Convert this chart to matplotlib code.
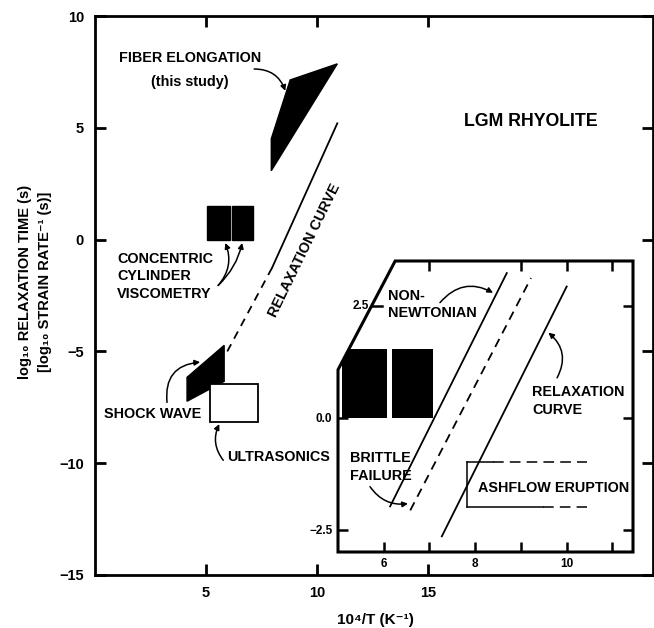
import matplotlib.pyplot as plt
from matplotlib.patches import Polygon, Rectangle

plt.rcParams['font.family'] = ['Liberation Sans', 'DejaVu Sans']
plt.rcParams['font.weight'] = 'bold'

# --- main panel: log10 relaxation time vs 10^4/T ---
X_LIM = (0, 25.1)
Y_LIM = (-15, 10)
X_TICKS = [5, 10, 15]
Y_TICKS = [-15, -10, -5, 0, 5, 10]

fiber_x = [7.93, 7.93, 8.78, 10.9]
fiber_y = [3.08, 4.51, 7.14, 7.86]

shock_x = [4.14, 5.81, 5.81, 4.14]
shock_y = [-6.16, -4.73, -6.34, -7.23]

ultrasonic_x = [5.18, 7.34]
ultrasonic_y = [-8.17, -6.47]

cylinder_x = [(5.04, 6.08), (6.17, 7.10)]
cylinder_y = [0.0, 1.5]

relax_solid_x = [7.97, 10.9]
relax_solid_y = [-1.25, 5.2]
relax_dash_x = [5.95, 7.97]
relax_dash_y = [-5.0, -1.25]

# --- inset: close-up of the 5-11.5 window ---
INSET_XLIM = (5.0, 11.45)
INSET_YLIM = (-3.0, 3.5)
INSET_XTICKS = [6, 7, 8, 9, 10, 11]
INSET_XLABELS = ['6', '', '8', '', '10', '']
INSET_YTICKS = [-2.5, 0.0, 2.5]
INSET_YLABELS = ['\u22122.5', '0.0', '2.5']
inset_cut = [(5.0, 1.07), (6.25, 3.5)]   # the clipped top-left corner

inset_cyl_x = [(5.09, 6.07), (6.18, 7.08)]
inset_cyl_y = [0.0, 1.54]

nonnewt_x = [6.14, 8.69]
nonnewt_y = [-1.98, 3.23]
brittle_x = [6.58, 9.22]
brittle_y = [-2.07, 3.12]
inset_relax_x = [7.27, 10.0]
inset_relax_y = [-2.65, 2.93]

ashflow_x = [7.82, 10.45]
ashflow_y = [-2.0, -1.0]
ashflow_top_solid = 8.39
ashflow_bottom_solid = 9.49

W, H = 654, 628
fig = plt.figure(figsize=(W / 100, H / 100), dpi=100)

ax = fig.add_axes([95 / W, 1 - 575 / H, 558 / W, 559 / H])
ax.set_xlim(*X_LIM)
ax.set_ylim(*Y_LIM)
ax.set_xticks(X_TICKS, [str(v) for v in X_TICKS])
ax.set_yticks(Y_TICKS, [str(v).replace('-', '\u2212') for v in Y_TICKS])
ax.tick_params(direction='in', length=8, width=2, top=True, right=True,
               labelsize=10.5, pad=8)
for s in ax.spines.values():
    s.set_linewidth(2)

ax.add_patch(Polygon(list(zip(fiber_x, fiber_y)), closed=True, fc='black', ec='black'))
ax.add_patch(Polygon(list(zip(shock_x, shock_y)), closed=True, fc='black', ec='black'))
ax.add_patch(Rectangle((ultrasonic_x[0], ultrasonic_y[0]),
                       ultrasonic_x[1] - ultrasonic_x[0], ultrasonic_y[1] - ultrasonic_y[0],
                       fc='white', ec='black', lw=1.3))
for xa, xb in cylinder_x:
    ax.add_patch(Rectangle((xa, cylinder_y[0]), xb - xa, cylinder_y[1] - cylinder_y[0],
                           fc='black', ec='black'))

ax.plot(relax_solid_x, relax_solid_y, color='black', lw=1.3)
ax.plot(relax_dash_x, relax_dash_y, color='black', lw=1.3, ls=(0, (4.5, 3.5)))

txt = dict(fontsize=10.4, fontweight='bold', color='black')
ax.text(4.28, 8.12, 'FIBER ELONGATION', ha='center', va='center', **txt)
ax.text(4.28, 7.05, '(this study)', ha='center', va='center', **txt)
ax.text(19.6, 5.27, 'LGM RHYOLITE', ha='center', va='center', fontsize=12.8)
ax.text(0.99, -1.65, 'CONCENTRIC\nCYLINDER\nVISCOMETRY', ha='left', va='center',
        linespacing=1.3, **txt)
ax.text(0.41, -7.81, 'SHOCK WAVE', ha='left', va='center', **txt)
ax.text(5.95, -9.73, 'ULTRASONICS', ha='left', va='center', **txt)
ax.text(9.41, -0.49, 'RELAXATION CURVE', ha='center', va='center', rotation=64,
        rotation_mode='anchor', **txt)


def curved_arrow(axis, start, end, rad):
    axis.annotate('', xy=end, xytext=start,
                  arrowprops=dict(arrowstyle='-|>', color='black', lw=1.1,
                                  mutation_scale=8, shrinkA=0, shrinkB=0,
                                  connectionstyle=f'arc3,rad={rad}'))


curved_arrow(ax, (7.16, 7.63), (8.56, 6.65), -0.35)
curved_arrow(ax, (5.54, -2.05), (5.86, -0.15), 0.3)
curved_arrow(ax, (5.54, -2.05), (6.62, -0.15), 0.15)
curved_arrow(ax, (3.24, -7.28), (4.73, -5.48), -0.5)
curved_arrow(ax, (5.77, -9.87), (5.59, -8.25), -0.3)

fig.text(25 / W, 1 - 282 / H, 'log\u2081\u2080 RELAXATION TIME (s)', rotation=90,
         ha='center', va='center', fontsize=10.5)
fig.text(45 / W, 1 - 282 / H, '[log\u2081\u2080 STRAIN RATE\u207b\u00b9 (s)]', rotation=90,
         ha='center', va='center', fontsize=10.5)
fig.text(375 / W, 1 - 620 / H, '10\u2074/T (K\u207b\u00b9)', ha='center', va='center',
         fontsize=11)

# --- inset ---
ins = fig.add_axes([338 / W, 1 - 552 / H, 295 / W, 291 / H])
ins.set_xlim(*INSET_XLIM)
ins.set_ylim(*INSET_YLIM)
ins.patch.set_visible(False)
for s in ins.spines.values():
    s.set_visible(False)

x0, x1 = INSET_XLIM
y0, y1 = INSET_YLIM
frame_pts = [(x0, y0), (x1, y0), (x1, y1), inset_cut[1], inset_cut[0]]
ins.add_patch(Polygon(frame_pts, closed=True, fc='white', ec='none', zorder=0, clip_on=False))
frame = Polygon(frame_pts, closed=True, fc='none', ec='black', lw=2.2, zorder=3, clip_on=False)
ins.add_patch(frame)

ins.set_xticks(INSET_XTICKS, INSET_XLABELS)
ins.set_yticks(INSET_YTICKS, INSET_YLABELS)
ins.tick_params(direction='in', length=7, width=1.8, top=True, right=True,
                labelsize=8.5, pad=4)
for t, v in zip(ins.xaxis.get_major_ticks(), INSET_XTICKS):
    if v in (6, 8):
        t.tick2line.set_visible(False)
ytk = ins.yaxis.get_major_ticks()[2]
ytk.tick1line.set_visible(False)
ytk.label1.set_visible(False)

# the 2.5 tick sits on the slanted edge
(cx0, cy0), (cx1, cy1) = inset_cut
diag_x = cx0 + (INSET_YTICKS[2] - cy0) * (cx1 - cx0) / (cy1 - cy0)
ins.plot([diag_x, diag_x + 0.22], [INSET_YTICKS[2]] * 2, color='black', lw=1.8, clip_on=False)
ins.text(diag_x - 0.06, INSET_YTICKS[2], INSET_YLABELS[2], ha='right', va='center', fontsize=8.5)

for xa, xb in inset_cyl_x:
    r = Rectangle((xa, inset_cyl_y[0]), xb - xa, inset_cyl_y[1] - inset_cyl_y[0],
                  fc='black', ec='none')
    ins.add_patch(r)
    r.set_clip_path(frame)

ins.plot(nonnewt_x, nonnewt_y, color='black', lw=1.3)
ins.plot(brittle_x, brittle_y, color='black', lw=1.3, ls=(0, (5, 3.5)))
ins.plot(inset_relax_x, inset_relax_y, color='black', lw=1.3)

ins.plot([ashflow_x[0], ashflow_x[0]], ashflow_y, color='black', lw=1.1)
ins.plot([ashflow_x[0], ashflow_top_solid], [ashflow_y[1]] * 2, color='black', lw=1.1)
ins.plot([ashflow_top_solid, ashflow_x[1]], [ashflow_y[1]] * 2, color='black', lw=1.1,
         ls=(0, (7, 4)))
ins.plot([ashflow_x[0], ashflow_bottom_solid], [ashflow_y[0]] * 2, color='black', lw=1.1)
ins.plot([ashflow_bottom_solid, ashflow_x[1]], [ashflow_y[0]] * 2, color='black', lw=1.1,
         ls=(0, (7, 4)))

ins.text(6.09, 2.52, 'NON-\nNEWTONIAN', ha='left', va='center', linespacing=1.25, **txt)
ins.text(5.26, -1.10, 'BRITTLE\nFAILURE', ha='left', va='center', linespacing=1.4, **txt)
ins.text(9.25, 0.38, 'RELAXATION\nCURVE', ha='left', va='center', linespacing=1.35, **txt)
ins.text(8.06, -1.56, 'ASHFLOW ERUPTION', ha='left', va='center', **txt)

curved_arrow(ins, (7.23, 2.57), (8.39, 2.79), -0.4)
curved_arrow(ins, (5.70, -1.54), (6.53, -1.92), 0.3)
curved_arrow(ins, (9.79, 0.89), (9.60, 1.90), 0.4)

fig.savefig('out.png', dpi=100)
